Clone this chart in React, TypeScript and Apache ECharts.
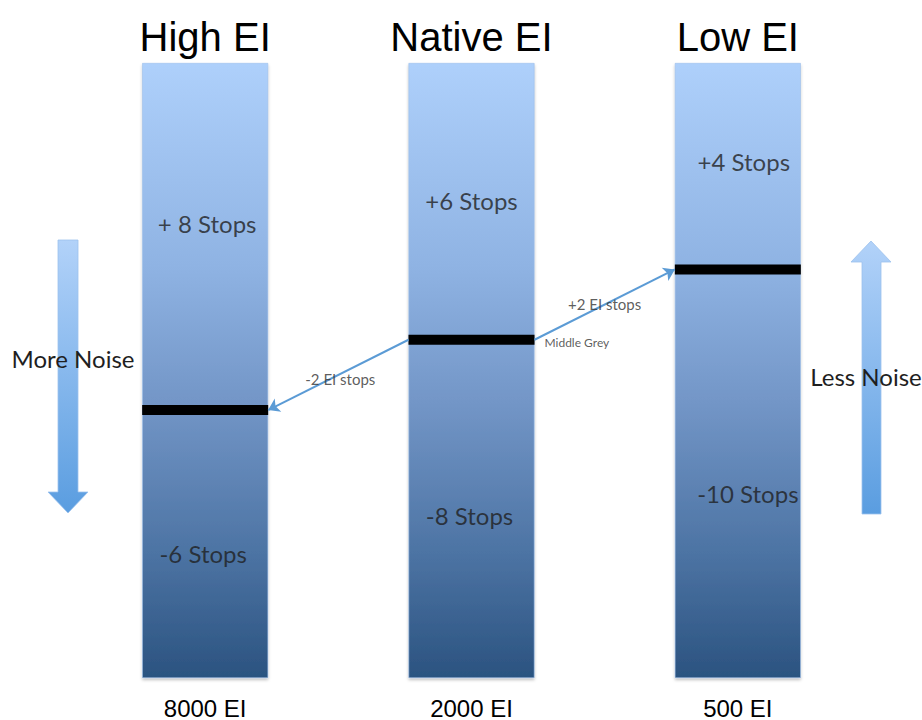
import React, { useEffect, useRef } from "react";
import * as echarts from "echarts";

// ---- data ----
const columns = ["High EI", "Native EI", "Low EI"];
const isoLabels = ["8000 EI", "2000 EI", "500 EI"];
const totalStops = [14, 14, 14];
const middleGrey = [6.1, 7.7, 9.3];
const stopsAbove = ["+ 8 Stops", "+6 Stops", "+4 Stops"];
const stopsBelow = ["-6 Stops", "-8 Stops", "-10 Stops"];
const aboveLabelAt = [10.35, 10.87, 11.75];
const belowLabelAt = [2.84, 3.7, 4.2];
const shiftLabels = ["-2 EI stops", "+2 EI stops"];
const middleGreyLabel = "Middle Grey";
const noiseLabels = ["More Noise", "Less Noise"];

export default function App() {
  const ref = useRef<HTMLDivElement>(null);

  useEffect(() => {
    if (!ref.current) return;
    const chart = echarts.init(ref.current, undefined, { renderer: "svg" });

    const W = 922;
    const gridLeft = 72;
    const gridRight = 51;
    const barWidth = 126;
    const colW = (W - gridLeft - gridRight) / 3;
    const hw = barWidth / 2 / colW;

    const leftStart = [1 - hw, middleGrey[1]];
    const leftEnd = [0 + hw, middleGrey[0]];
    const rightStart = [1 + hw, middleGrey[1]];
    const rightEnd = [2 - hw, middleGrey[2]];
    const mid = (a: number[], b: number[]) => [(a[0] + b[0]) / 2, (a[1] + b[1]) / 2];

    const barGradient = new echarts.graphic.LinearGradient(0, 0, 0, 1, [
      { offset: 0, color: "#aed0fb" },
      { offset: 0.33, color: "#8fb3e3" },
      { offset: 0.55, color: "#7396c7" },
      { offset: 0.8, color: "#4c73a3" },
      { offset: 1, color: "#2b5380" },
    ]);
    const arrowGradient = () =>
      new echarts.graphic.LinearGradient(0, 0, 0, 1, [
        { offset: 0, color: "#b2d2f9" },
        { offset: 1, color: "#5a9de0" },
      ]);

    const labelFont = "Lato";
    // small horizontal nudges (px) of the in-bar texts, as in the picture
    const aboveNudge = [2, 0, 6];
    const belowNudge = [-2, -2, 10];

    chart.setOption({
      animation: false,
      grid: { left: gridLeft, right: gridRight, top: 63, bottom: 40 },
      xAxis: [
        {
          type: "category",
          position: "top",
          data: columns,
          axisLine: { show: false },
          axisTick: { show: false },
          splitLine: { show: false },
          axisLabel: {
            fontSize: 40,
            fontFamily: "Liberation Sans",
            color: "#000",
            margin: 6,
          },
        },
        {
          type: "category",
          position: "bottom",
          data: isoLabels,
          axisLine: { show: false },
          axisTick: { show: false },
          splitLine: { show: false },
          axisLabel: {
            fontSize: 24,
            fontFamily: "Liberation Sans",
            color: "#000",
            margin: 18,
          },
        },
        { type: "value", min: -0.5, max: 2.5, show: false },
      ],
      yAxis: { type: "value", min: 0, max: 14, show: false },
      series: [
        {
          type: "bar",
          xAxisIndex: 2,
          barWidth,
          silent: true,
          data: totalStops.map((v, i) => [i, v]),
          itemStyle: {
            color: barGradient,
            borderColor: "#9dbfe9",
            borderWidth: 0.6,
            shadowBlur: 3,
            shadowColor: "rgba(0,0,0,0.25)",
            shadowOffsetY: 2,
          },
        },
        {
          type: "scatter",
          xAxisIndex: 2,
          symbol: "rect",
          symbolSize: [barWidth, 10],
          silent: true,
          z: 5,
          itemStyle: { color: "#000", opacity: 1 },
          data: middleGrey.map((v, i) => [i, v]),
        },
        {
          type: "lines",
          coordinateSystem: "cartesian2d",
          xAxisIndex: 2,
          yAxisIndex: 0,
          silent: true,
          z: 6,
          symbol: ["none", "arrow"],
          symbolSize: [6, 11],
          lineStyle: { color: "#5b9bd5", width: 2, opacity: 1, curveness: 0 },
          data: [{ coords: [leftStart, leftEnd] }, { coords: [rightStart, rightEnd] }],
        },
        {
          type: "scatter",
          xAxisIndex: 2,
          symbolSize: 0,
          silent: true,
          z: 7,
          label: {
            show: true,
            position: "inside",
            fontFamily: labelFont,
            fontSize: 24,
            color: "#1f1f1f",
            formatter: (p: any) => p.value[2],
          },
          data: [
            ...stopsAbove.map((t, i) => ({
              value: [i, aboveLabelAt[i], t],
              label: { offset: [aboveNudge[i], 0] },
            })),
            ...stopsBelow.map((t, i) => ({
              value: [i, belowLabelAt[i], t],
              label: { offset: [belowNudge[i], 0] },
            })),
          ],
        },
        {
          type: "scatter",
          xAxisIndex: 2,
          symbolSize: 0,
          silent: true,
          z: 7,
          label: {
            show: true,
            position: "inside",
            fontFamily: labelFont,
            fontSize: 15,
            color: "#333",
            formatter: (p: any) => p.value[2],
          },
          data: [
            { value: [...mid(leftStart, leftEnd), shiftLabels[0]], label: { offset: [2, 4] } },
            { value: [...mid(rightStart, rightEnd), shiftLabels[1]], label: { offset: [0, -1] } },
            {
              value: [rightStart[0], rightStart[1], middleGreyLabel],
              label: { position: "right", distance: 10, fontSize: 12, offset: [0, 3] },
            },
          ],
        },
      ],
      graphic: [
        {
          type: "polygon",
          silent: true,
          shape: {
            points: [
              [58, 240],
              [78, 240],
              [78, 492],
              [88, 492],
              [68, 513],
              [48, 492],
              [58, 492],
            ],
          },
          style: { fill: arrowGradient(), stroke: "#9cc2ee", lineWidth: 0.8 },
        },
        {
          type: "polygon",
          silent: true,
          shape: {
            points: [
              [871, 241],
              [891, 262],
              [881, 262],
              [881, 514],
              [862, 514],
              [862, 262],
              [851, 262],
            ],
          },
          style: { fill: arrowGradient(), stroke: "#9cc2ee", lineWidth: 0.8 },
        },
        {
          type: "text",
          silent: true,
          z: 10,
          x: 73,
          y: 358,
          style: {
            text: noiseLabels[0],
            font: `24px ${labelFont}`,
            fill: "#1f1f1f",
            align: "center",
            verticalAlign: "middle",
          },
        },
        {
          type: "text",
          silent: true,
          z: 10,
          x: 866,
          y: 376,
          style: {
            text: noiseLabels[1],
            font: `24px ${labelFont}`,
            fill: "#1f1f1f",
            align: "center",
            verticalAlign: "middle",
          },
        },
      ],
    });

    return () => chart.dispose();
  }, []);

  return (
    <div
      ref={ref}
      style={{ position: "fixed", left: 0, top: 0, width: 922, height: 720, background: "#fff" }}
    />
  );
}
